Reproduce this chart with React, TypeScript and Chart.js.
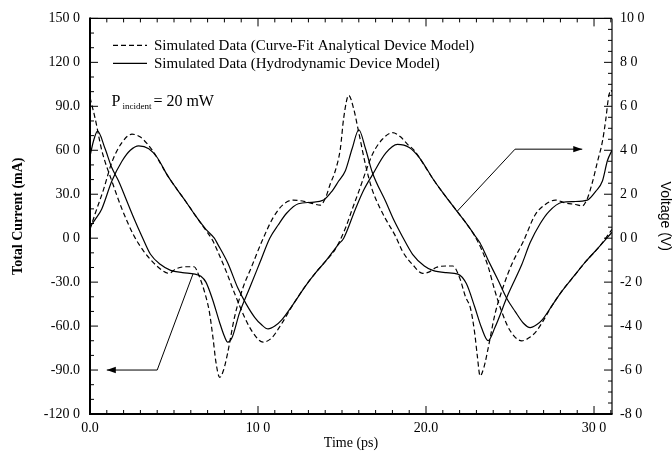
import { useEffect, useRef } from 'react';
import { Chart, registerables } from 'chart.js';

Chart.register(...registerables);

const SERIF = "'Liberation Serif', 'Times New Roman', Times, serif";
const SANS = "'Liberation Sans', Arial, Helvetica, sans-serif";

// ---- Hydrodynamic device model (solid) : total current, mA ----
const hydroCurrentTime = [0, 0.2, 0.45, 0.9, 1.3, 1.7, 2.1, 2.6, 3.1, 3.6, 4.2, 4.8, 5.5, 6.25, 6.6, 6.9, 7.3, 7.7, 8.0, 8.2, 8.45, 8.9, 9.5, 10.1, 10.7, 11.2, 11.7, 12.4, 13.2, 13.9, 14.4, 14.8, 15.2, 15.6, 16.0, 16.4, 16.8, 17.6, 18.1, 18.6, 19.2, 19.9, 20.4, 21.2, 21.9, 22.4, 22.9, 23.3, 23.7, 24.1, 24.9, 25.7, 26.2, 26.8, 27.3, 28.1, 28.8, 29.6, 30.1, 30.5, 30.8, 31.07];
const hydroCurrent = [56, 66, 73, 61, 48, 39, 28, 14, 1, -11, -18, -22, -23.5, -24.5, -26, -30, -42, -57, -67, -71, -68, -51, -34, -17, 0, 9, 17, 23.5, 24.5, 26, 32, 39, 46, 61, 74, 61, 45, 25, 12, 1, -11, -19, -22, -23.5, -24.5, -31, -47, -61, -70, -61, -38, -18, -3, 10, 18, 24.5, 25, 26, 32, 39, 53, 60];

// ---- Hydrodynamic device model (solid) : voltage, V ----
const hydroVoltageTime = [0, 0.35, 0.7, 1.3, 1.9, 2.4, 2.9, 3.5, 4.0, 4.6, 5.2, 5.7, 6.3, 6.9, 7.4, 7.6, 8.2, 8.8, 9.3, 9.8, 10.2, 10.6, 11.0, 11.4, 12.1, 12.8, 13.4, 14.0, 14.8, 15.1, 15.8, 16.3, 16.8, 17.6, 18.3, 19.0, 19.6, 20.5, 21.2, 21.8, 22.4, 22.9, 23.2, 23.7, 24.3, 24.8, 25.3, 25.8, 26.2, 26.6, 26.9, 27.5, 28.1, 28.8, 29.5, 30.3, 31.07];
const hydroVoltage = [0.5, 0.9, 1.33, 2.6, 3.5, 4.0, 4.2, 4.07, 3.67, 2.87, 2.2, 1.67, 1.0, 0.4, 0.0, -0.27, -1.13, -2.27, -3.0, -3.6, -3.93, -4.13, -4.0, -3.73, -3.0, -2.2, -1.6, -1.07, -0.27, 0.0, 1.33, 2.2, 2.87, 3.87, 4.27, 4.13, 3.67, 2.6, 1.87, 1.27, 0.67, 0.13, -0.2, -1.0, -1.93, -2.73, -3.33, -3.87, -4.07, -3.93, -3.73, -3.07, -2.4, -1.73, -1.07, -0.4, 0.27];

// ---- Curve-fit analytical device model (dashed) : total current, mA ----
const fitCurrentTime = [0, 0.3, 0.7, 1.3, 1.9, 2.6, 3.2, 3.8, 4.3, 4.7, 5.1, 5.7, 6.2, 6.5, 6.85, 7.1, 7.32, 7.5, 7.72, 7.95, 8.2, 8.6, 9.1, 9.6, 10.2, 10.9, 11.5, 12.1, 12.8, 13.3, 13.7, 14.0, 14.3, 14.6, 14.9, 15.1, 15.4, 15.7, 16.0, 16.4, 16.8, 17.2, 17.6, 18.2, 18.6, 19.2, 19.8, 20.2, 20.6, 21.2, 21.6, 22.0, 22.35, 22.65, 22.9, 23.05, 23.22, 23.45, 23.7, 24.1, 24.6, 25.1, 25.8, 26.5, 27.1, 27.7, 28.3, 28.9, 29.3, 29.6, 29.9, 30.2, 30.5, 30.7, 30.85, 31.0, 31.07];
const fitCurrent = [96, 82, 60, 39, 20, 2, -9, -17, -22, -24, -21, -19.5, -19.5, -26, -38, -50, -68, -85, -95, -90, -78, -54, -34, -20, -3, 14, 23, 26, 25, 23.5, 22.5, 27, 37, 46, 61, 82, 97.5, 88, 72, 50, 33, 22, 13, 1, -9, -18, -24, -23, -20, -19, -19, -27, -40, -48, -65, -80, -94, -88, -75, -52, -33, -18, -2, 16, 23, 26, 24, 23, 22, 27, 38, 52, 66, 81, 95, 101, 100];

// ---- Curve-fit analytical device model (dashed) : voltage, V ----
const fitVoltageTime = [0, 0.3, 0.8, 1.3, 1.9, 2.5, 3.0, 3.4, 3.8, 4.6, 5.2, 5.7, 6.3, 6.9, 7.3, 7.6, 8.1, 8.6, 9.2, 9.7, 10.3, 10.8, 11.4, 12.1, 12.8, 13.4, 14.0, 14.6, 15.2, 15.6, 16.0, 16.4, 16.8, 17.4, 18.0, 18.5, 18.9, 19.3, 19.6, 20.5, 21.2, 21.8, 22.4, 22.9, 23.3, 23.7, 24.1, 24.5, 25.0, 25.7, 26.2, 26.6, 27.0, 27.5, 28.1, 28.8, 29.5, 30.3, 31.07];
const fitVoltage = [0.4, 1.1, 2.2, 3.45, 4.35, 4.73, 4.6, 4.3, 3.9, 2.87, 2.2, 1.67, 1.0, 0.35, -0.1, -0.6, -1.5, -2.5, -3.6, -4.3, -4.73, -4.55, -3.9, -3.0, -2.2, -1.6, -1.07, -0.5, 0.45, 1.3, 2.13, 3.0, 3.8, 4.5, 4.8, 4.6, 4.27, 4.0, 3.67, 2.6, 1.87, 1.27, 0.67, 0.1, -0.5, -1.3, -2.4, -3.33, -4.2, -4.67, -4.5, -4.2, -3.73, -3.07, -2.4, -1.73, -1.07, -0.4, 0.4];

// ---- axes ----
const timeMin = 0;
const timeMax = 31.07;
const xTickValues = [0, 10, 20, 30];
const xTickLabels = ['0.0', '10 0', '20.0', '30 0'];
const currentTickValues = [150, 120, 90, 60, 30, 0, -30, -60, -90, -120];
const currentTickLabels = ['150 0', '120 0', '90.0', '60 0', '30.0', '0 0', '-30.0', '-60.0', '-90.0', '-120 0'];
const voltageTickValues = [10, 8, 6, 4, 2, 0, -2, -4, -6, -8];
const voltageTickLabels = ['10 0', '8 0', '6 0', '4 0', '2 0', '0 0', '-2 0', '-4 0', '-6 0', '-8 0'];

// ---- legend / annotations ----
const legendLabels = ['Simulated Data (Curve-Fit Analytical Device Model)', 'Simulated Data (Hydrodynamic Device Model)'];
const powerLabel = ['P', 'incident', '= 20 mW'];
// arrow pointing to the current axis (time ps, current mA)
const currentArrowTime = [6.13, 4.0, 1.0];
const currentArrowValue = [-24.4, -90, -90];
// arrow pointing to the voltage axis (time ps, voltage V)
const voltageArrowTime = [21.85, 25.3, 29.3];
const voltageArrowValue = [1.22, 4.05, 4.05];

const zip = (xs: number[], ys: number[]) => xs.map((x, i) => ({ x, y: ys[i] }));

const overlayPlugin = {
  id: 'overlay',
  afterDatasetsDraw(chart: any) {
    const { ctx, chartArea: a, scales } = chart;
    const sx = scales.x;
    const sy = scales.y;
    const sv = scales.y1;
    ctx.save();
    ctx.strokeStyle = '#000';
    ctx.fillStyle = '#000';
    ctx.setLineDash([]);
    const seg = (x1: number, y1: number, x2: number, y2: number) => {
      ctx.beginPath();
      ctx.moveTo(x1, y1);
      ctx.lineTo(x2, y2);
      ctx.stroke();
    };
    // frame
    ctx.lineWidth = 1.2;
    seg(a.left, a.top, a.right, a.top);
    seg(a.right, a.top, a.right, a.bottom);
    ctx.lineWidth = 2;
    seg(a.left, a.top - 1, a.left, a.bottom + 1);
    seg(a.left - 1, a.bottom, a.right + 0.6, a.bottom);

    // inward ticks
    ctx.lineWidth = 1;
    for (let k = 0; k <= 31; k++) {
      const px = sx.getPixelForValue(k);
      const len = k % 10 === 0 ? 8 : 4;
      seg(px, a.bottom, px, a.bottom - len);
      seg(px, a.top, px, a.top + len);
    }
    for (let v = -120; v <= 150; v += 10) {
      const py = sy.getPixelForValue(v);
      const len = v % 30 === 0 ? 8 : 4;
      seg(a.left, py, a.left + len, py);
    }
    for (let k = -16; k <= 20; k++) {
      const py = sv.getPixelForValue(k / 2);
      const len = k % 4 === 0 ? 8 : 4;
      seg(a.right, py, a.right - len, py);
    }

    // arrows
    const drawArrow = (ts: number[], vs: number[], scaleY: any) => {
      const p = ts.map((t, i) => [sx.getPixelForValue(t), scaleY.getPixelForValue(vs[i])]);
      ctx.lineWidth = 1;
      ctx.beginPath();
      p.forEach(([x, y], i) => (i ? ctx.lineTo(x, y) : ctx.moveTo(x, y)));
      ctx.stroke();
      const [x2, y2] = p[p.length - 1];
      const [x1, y1] = p[p.length - 2];
      const ang = Math.atan2(y2 - y1, x2 - x1);
      const L = 9;
      const W = 3.2;
      ctx.beginPath();
      ctx.moveTo(x2, y2);
      ctx.lineTo(x2 - L * Math.cos(ang) + W * Math.sin(ang), y2 - L * Math.sin(ang) - W * Math.cos(ang));
      ctx.lineTo(x2 - L * Math.cos(ang) - W * Math.sin(ang), y2 - L * Math.sin(ang) + W * Math.cos(ang));
      ctx.closePath();
      ctx.fill();
    };
    drawArrow(currentArrowTime, currentArrowValue, sy);
    drawArrow(voltageArrowTime, voltageArrowValue, sv);

    // legend
    const lx1 = a.left + 23;
    const lx2 = a.left + 57;
    ctx.lineWidth = 1.2;
    ctx.setLineDash([5, 3]);
    seg(lx1, a.top + 27, lx2, a.top + 27);
    ctx.setLineDash([]);
    seg(lx1, a.top + 45, lx2, a.top + 45);
    ctx.font = `15px ${SERIF}`;
    ctx.textAlign = 'left';
    ctx.textBaseline = 'alphabetic';
    ctx.fillText(legendLabels[0], a.left + 64, a.top + 31.5);
    ctx.fillText(legendLabels[1], a.left + 64, a.top + 49.5);

    // P_incident annotation
    let px = a.left + 21.5;
    const base = a.top + 88;
    ctx.font = `16px ${SERIF}`;
    ctx.fillText(powerLabel[0], px, base);
    px += ctx.measureText(powerLabel[0]).width + 2;
    ctx.font = `9px ${SERIF}`;
    ctx.fillText(powerLabel[1], px, base + 2.5);
    px += ctx.measureText(powerLabel[1]).width + 2;
    ctx.font = `16px ${SERIF}`;
    ctx.fillText(powerLabel[2], px, base);

    ctx.restore();
  },
};

export default function App() {
  const ref = useRef<HTMLCanvasElement>(null);

  useEffect(() => {
    const canvas = ref.current;
    if (!canvas) return;
    const line = (label: string, data: any[], axis: string, dashed: boolean) => ({
      label,
      data,
      yAxisID: axis,
      borderColor: '#000',
      borderWidth: 1.2,
      borderDash: dashed ? [5, 3] : [],
      pointRadius: 0,
      fill: false,
      cubicInterpolationMode: 'monotone' as const,
    });
    const tickFont = { family: SERIF, size: 14 };
    const chart = new Chart(canvas, {
      type: 'line',
      data: {
        datasets: [
          line(legendLabels[0] + ' current', zip(fitCurrentTime, fitCurrent), 'y', true),
          line(legendLabels[0] + ' voltage', zip(fitVoltageTime, fitVoltage), 'y1', true),
          line(legendLabels[1] + ' current', zip(hydroCurrentTime, hydroCurrent), 'y', false),
          line(legendLabels[1] + ' voltage', zip(hydroVoltageTime, hydroVoltage), 'y1', false),
        ],
      },
      options: {
        animation: false,
        responsive: false,
        maintainAspectRatio: false,
        layout: { padding: { top: 16, left: 0, right: 0, bottom: 0 } },
        plugins: { legend: { display: false }, tooltip: { enabled: false } },
        scales: {
          x: {
            type: 'linear',
            min: timeMin,
            max: timeMax,
            afterBuildTicks: (s: any) => {
              s.ticks = xTickValues.map((value) => ({ value }));
            },
            afterFit: (s: any) => {
              s.height = 42;
            },
            grid: { display: false, drawTicks: false },
            border: { display: false },
            ticks: {
              autoSkip: false,
              maxRotation: 0,
              padding: 6,
              color: '#000',
              font: tickFont,
              callback: (_v: any, i: number) => xTickLabels[i],
            },
            title: {
              display: true,
              text: 'Time (ps)',
              color: '#000',
              font: { family: SERIF, size: 14, lineHeight: 1.2 },
              padding: { top: 0, bottom: 4 },
            },
          },
          y: {
            type: 'linear',
            position: 'left',
            min: -120,
            max: 150,
            afterBuildTicks: (s: any) => {
              s.ticks = currentTickValues.map((value) => ({ value }));
            },
            afterFit: (s: any) => {
              s.width = 90;
            },
            grid: { display: false, drawTicks: false },
            border: { display: false },
            ticks: {
              autoSkip: false,
              padding: 10,
              color: '#000',
              font: tickFont,
              callback: (_v: any, i: number) => currentTickLabels[i],
            },
            title: {
              display: true,
              text: 'Total Current (mA)',
              color: '#000',
              font: { family: SERIF, size: 14, weight: 'bold', lineHeight: 1.2 },
              padding: { top: 10, bottom: 0 },
            },
          },
          y1: {
            type: 'linear',
            position: 'right',
            min: -8,
            max: 10,
            afterBuildTicks: (s: any) => {
              s.ticks = voltageTickValues.map((value) => ({ value }));
            },
            afterFit: (s: any) => {
              s.width = 60;
            },
            grid: { display: false, drawTicks: false },
            border: { display: false },
            ticks: {
              autoSkip: false,
              padding: 8,
              color: '#000',
              font: tickFont,
              callback: (_v: any, i: number) => voltageTickLabels[i],
            },
            title: {
              display: true,
              text: 'Voltage (V)',
              color: '#000',
              font: { family: SANS, size: 14, lineHeight: 1 },
              padding: { top: 0, bottom: 0 },
            },
          },
        },
      } as any,
      plugins: [overlayPlugin],
    });
    return () => chart.destroy();
  }, []);

  return (
    <div style={{ position: 'absolute', left: 0, top: 0, width: 672, height: 456, background: '#fff' }}>
      <canvas ref={ref} width={672} height={456} style={{ display: 'block', width: 672, height: 456 }} />
    </div>
  );
}
